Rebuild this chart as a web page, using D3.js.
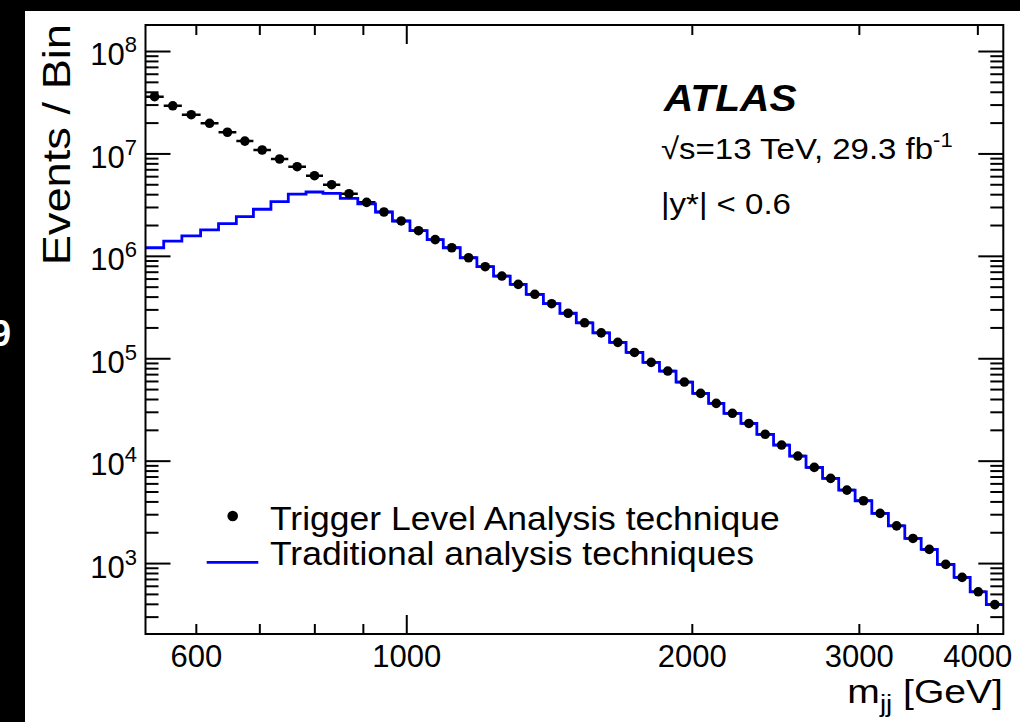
<!DOCTYPE html>
<html>
<head>
<meta charset="utf-8">
<script src="https://cdn.jsdelivr.net/npm/d3@7"></script>
<style>
  html, body { margin: 0; padding: 0; background: #000; }
  svg { display: block; }
  text { font-family: "Liberation Sans", Arial, Helvetica, sans-serif; fill: #000; }
</style>
</head>
<body>
<div id="plot"></div>
<script>
// bin edges of m_jj in GeV
var binEdges = [531, 555, 580, 607, 634, 662, 690, 720, 751, 784, 817, 852, 889, 928, 967,
  1009, 1052, 1094, 1140, 1187, 1236, 1287, 1338, 1395, 1452, 1511, 1573, 1638, 1705, 1776,
  1849, 1925, 2004, 2083, 2162, 2253, 2342, 2439, 2536, 2639, 2747, 2857, 2973, 3096, 3223,
  3354, 3490, 3630, 3780, 3931, 4088, 4260];

// Trigger Level Analysis (black points), events per bin
var tlaEvents = [3.58e7, 2.92e7, 2.39e7, 1.97e7, 1.61e7, 1.32e7, 1.08e7, 8.82e6, 7.42e6, 6.06e6,
  4.95e6, 4.04e6, 3.33e6, 2.68e6, 2.19e6, 1.76e6, 1.44e6, 1.20e6, 9.58e5, 7.83e5,
  6.35e5, 5.27e5, 4.21e5, 3.41e5, 2.75e5, 2.22e5, 1.77e5, 1.43e5, 1.14e5, 9.12e4,
  7.50e4, 5.86e4, 4.54e4, 3.63e4, 2.90e4, 2.31e4, 1.81e4, 1.42e4, 1.11e4, 8600,
  6720, 5160, 4060, 3060, 2310, 1740, 1360, 971, 725, 524, 393];

// traditional analysis (blue histogram), events per bin
var tradEvents = [1.20e6, 1.395e6, 1.57e6, 1.79e6, 2.06e6, 2.41e6, 2.85e6, 3.38e6, 4.01e6, 4.20e6,
  4.08e6, 3.64e6, 3.21e6, 2.68e6, 2.19e6, 1.76e6, 1.44e6, 1.20e6, 9.58e5, 7.83e5,
  6.35e5, 5.27e5, 4.21e5, 3.41e5, 2.75e5, 2.22e5, 1.77e5, 1.43e5, 1.14e5, 9.12e4,
  7.50e4, 5.86e4, 4.54e4, 3.63e4, 2.90e4, 2.31e4, 1.81e4, 1.42e4, 1.11e4, 8600,
  6720, 5160, 4060, 3060, 2310, 1740, 1360, 971, 725, 524, 393];

var xMajorTicks = [1000];
var xMinorTicks = [600, 700, 800, 900, 2000, 3000, 4000];
var xLabels = [600, 1000, 2000, 3000, 4000];
var yDecades = [1e3, 1e4, 1e5, 1e6, 1e7, 1e8];
var legendNames = ["Trigger Level Analysis technique", "Traditional analysis techniques"];

var svgWidth = 1020;
var svgHeight = 722;
var margin = { top: 25, right: 16.7, bottom: 88, left: 145.5 };
var width = svgWidth - margin.left - margin.right;
var height = svgHeight - margin.top - margin.bottom;

var svg = d3.select("#plot")
  .append("svg")
  .attr("width", svgWidth)
  .attr("height", svgHeight);

// black surround and white canvas
svg.append("rect").attr("width", svgWidth).attr("height", svgHeight).attr("fill", "#000");
svg.append("rect").attr("x", 25).attr("y", 11)
  .attr("width", svgWidth - 25).attr("height", svgHeight - 11).attr("fill", "#fff");

// bit of a white glyph cut at the left edge of the screenshot
svg.append("text")
  .attr("transform", "translate(-9, 346)")
  .attr("font-size", 36).attr("font-weight", "bold")
  .style("fill", "#fff")
  .text("9");

var chartGroup = svg.append("g")
  .attr("transform", `translate(${margin.left}, ${margin.top})`);

var x = d3.scaleLog().domain([531, 4260]).range([0, width]);
var y = d3.scaleLog().domain([203, 1.795e8]).range([height, 0]);

chartGroup.append("clipPath").attr("id", "clip")
  .append("rect").attr("width", width).attr("height", height);

// ticks on all four sides, pointing inward
function tickAxis(axisFn, values, size, tr) {
  var g = chartGroup.append("g")
    .attr("transform", tr)
    .call(axisFn.tickValues(values).tickSizeInner(size).tickSizeOuter(0).tickFormat(""));
  g.select(".domain").remove();
  g.selectAll("line").attr("stroke", "#000").attr("stroke-width", 2);
  return g;
}

tickAxis(d3.axisBottom(x), xMajorTicks, -19, `translate(0, ${height})`);
tickAxis(d3.axisBottom(x), xMinorTicks, -10, `translate(0, ${height})`);
tickAxis(d3.axisTop(x), xMajorTicks, -19, "translate(0, 0)");
tickAxis(d3.axisTop(x), xMinorTicks, -10, "translate(0, 0)");

var yMinor = [];
[1e2, 1e3, 1e4, 1e5, 1e6, 1e7, 1e8].forEach(d => {
  for (var k = 2; k <= 9; k++) {
    var v = d * k;
    if (v > y.domain()[0] && v < y.domain()[1]) yMinor.push(v);
  }
});
tickAxis(d3.axisLeft(y), yDecades, -25, "translate(0, 0)");
tickAxis(d3.axisLeft(y), yMinor, -13, "translate(0, 0)");
tickAxis(d3.axisRight(y), yDecades, -25, `translate(${width}, 0)`);
tickAxis(d3.axisRight(y), yMinor, -13, `translate(${width}, 0)`);

// x labels
var xLab = chartGroup.append("g")
  .attr("transform", `translate(0, ${height})`)
  .call(d3.axisBottom(x).tickValues(xLabels).tickSize(0).tickPadding(11).tickFormat(d3.format("d")));
xLab.select(".domain").remove();
xLab.selectAll("text")
  .attr("font-size", 31)
  .style("font-family", "'Liberation Sans', Arial, sans-serif")
  .attr("fill", "#000");

// y labels: 10^n
var yLab = chartGroup.append("g")
  .call(d3.axisLeft(y).tickValues(yDecades).tickSize(0).tickPadding(8.5).tickFormat(""));
yLab.select(".domain").remove();
yLab.selectAll("text")
  .attr("font-size", 31)
  .attr("dy", "0.45em")
  .style("font-family", "'Liberation Sans', Arial, sans-serif")
  .attr("fill", "#000")
  .each(function(d) {
    var t = d3.select(this);
    t.text("10");
    t.append("tspan").attr("font-size", 22).attr("dy", -13).text(Math.round(Math.log10(d)));
  });

// data
var bins = tlaEvents.map((v, i) => ({
  lo: binEdges[i], hi: binEdges[i + 1], tla: v, trad: tradEvents[i]
}));

var plotArea = chartGroup.append("g").attr("clip-path", "url(#clip)");

// horizontal (bin-width) error bars of the TLA points
plotArea.selectAll(".xerr")
  .data(bins)
  .enter()
  .append("line")
  .attr("class", "xerr")
  .attr("x1", d => x(d.lo))
  .attr("x2", d => x(d.hi))
  .attr("y1", d => y(d.tla))
  .attr("y2", d => y(d.tla))
  .attr("stroke", "#000")
  .attr("stroke-width", 2.5);

// traditional histogram as a step line
var stepPts = bins.map(d => [d.lo, d.trad]);
stepPts.push([binEdges[binEdges.length - 1], tradEvents[tradEvents.length - 1]]);
var stepLine = d3.line()
  .x(d => x(d[0]))
  .y(d => y(d[1]))
  .curve(d3.curveStepAfter);
plotArea.append("path")
  .attr("d", stepLine(stepPts))
  .attr("fill", "none")
  .attr("stroke", "#0000ff")
  .attr("stroke-width", 2.8);

// TLA points
plotArea.selectAll(".pt")
  .data(bins)
  .enter()
  .append("circle")
  .attr("class", "pt")
  .attr("cx", d => (x(d.lo) + x(d.hi)) / 2)
  .attr("cy", d => y(d.tla))
  .attr("r", 4.8)
  .attr("fill", "#000");

// frame
chartGroup.append("rect")
  .attr("width", width).attr("height", height)
  .attr("fill", "none").attr("stroke", "#000").attr("stroke-width", 2);

// axis titles (the reference font runs a bit wider, hence the x-stretch)
svg.append("text")
  .attr("transform", "translate(70, 24) rotate(-90) scale(1.16, 1)")
  .attr("text-anchor", "end")
  .attr("font-size", 39)
  .text("Events / Bin");

var xt = svg.append("text")
  .attr("transform", "translate(1003, 703) scale(1.15, 1)")
  .attr("text-anchor", "end")
  .attr("font-size", 34);
xt.append("tspan").text("m");
xt.append("tspan").attr("font-size", 24).attr("dy", 9).text("jj");
xt.append("tspan").attr("dy", -9).text(" [GeV]");

// ATLAS labels
svg.append("text")
  .attr("transform", "translate(664, 111) scale(1.1, 1)")
  .attr("font-size", 37).attr("font-weight", "bold").attr("font-style", "italic")
  .text("ATLAS");

var lumi = svg.append("text")
  .attr("transform", "translate(661, 159) scale(1.1, 1)")
  .attr("font-size", 30);
lumi.append("tspan").text("\u221As=13 TeV, 29.3 fb");
lumi.append("tspan").attr("font-size", 20).attr("dy", -12).text("-1");

svg.append("text")
  .attr("transform", "translate(661, 214) scale(1.1, 1)")
  .attr("font-size", 30)
  .text("|y*| < 0.6");

// legend
var legend = svg.append("g");
legend.append("circle").attr("cx", 232.7).attr("cy", 516).attr("r", 5.3).attr("fill", "#000");
legend.append("line")
  .attr("x1", 206.7).attr("x2", 258.3).attr("y1", 562.3).attr("y2", 562.3)
  .attr("stroke", "#0000ff").attr("stroke-width", 2.8);
legend.selectAll(".legtext")
  .data(legendNames)
  .enter()
  .append("text")
  .attr("class", "legtext")
  .attr("transform", (d, i) => `translate(270, ${530 + i * 35}) scale(1.06, 1)`)
  .attr("font-size", 33.5)
  .text(d => d);
</script>
</body>
</html>
